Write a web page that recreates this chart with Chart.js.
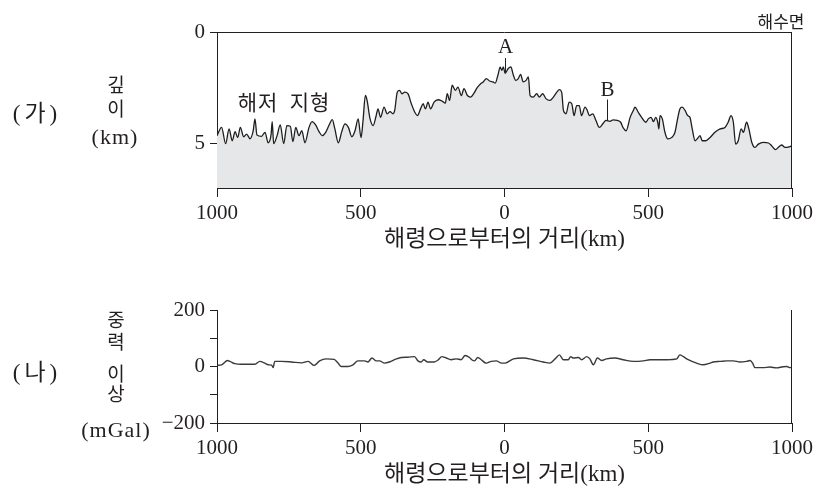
<!DOCTYPE html>
<html lang="ko">
<head>
<meta charset="utf-8">
<title>해령으로부터의 거리에 따른 해저 지형과 중력 이상</title>
<script src="https://cdn.jsdelivr.net/npm/chart.js@4.4.1/dist/chart.umd.min.js"></script>
<style>
  html, body { margin: 0; padding: 0; background: #fff; }
  #wrap { position: relative; width: 836px; height: 490px; overflow: hidden; }
  canvas { position: absolute; left: 0; }
  .lbl { position: absolute; transform: translate(-50%, -50%); white-space: nowrap; color: #231f20;
         font-family: 'Liberation Serif', 'Noto Sans CJK KR', serif; line-height: 1; }
  .ko { font-family: 'Noto Sans CJK KR', sans-serif; }
</style>
</head>
<body>
<div id="wrap">
  <canvas id="topo" width="836" height="255" style="top:0"></canvas>
  <canvas id="grav" width="836" height="235" style="top:255px"></canvas>

  <div class="lbl" style="left:37px;top:113px;font-size:23px;letter-spacing:4px">(가)</div>
  <div class="lbl ko" style="left:116px;top:83px;font-size:19px">깊</div>
  <div class="lbl ko" style="left:116px;top:107px;font-size:19px">이</div>
  <div class="lbl" style="left:115px;top:137px;font-size:22px;letter-spacing:1px">(km)</div>
  <div class="lbl ko" style="left:781px;top:20px;font-size:17px">해수면</div>

  <div class="lbl" style="left:37px;top:372px;font-size:23px;letter-spacing:4px">(나)</div>
  <div class="lbl ko" style="left:116px;top:318px;font-size:19px">중</div>
  <div class="lbl ko" style="left:116px;top:340px;font-size:19px">력</div>
  <div class="lbl ko" style="left:116px;top:372px;font-size:19px">이</div>
  <div class="lbl ko" style="left:116px;top:392px;font-size:19px">상</div>
  <div class="lbl" style="left:116px;top:430px;font-size:22px;letter-spacing:1px">(mGal)</div>
</div>

<script>
// distance from the ridge (km), left side negative, and sea-floor depth (km)
const topoDist = [
  -1000, -984, -970, -958, -947, -937, -928, -919, -907, -897,
  -885, -874, -868, -861, -845, -833, -822, -812, -808, -803,
  -791, -780, -768, -757, -745, -736, -726, -715, -705, -694,
  -680, -669, -657, -645, -634, -622, -610, -599, -590, -578,
  -566, -555, -543, -531, -520, -509, -499, -492, -484, -478,
  -468, -457, -447, -440, -431, -419, -408, -398, -388, -382,
  -373, -365, -357, -347, -336, -324, -312, -303, -292, -283,
  -275, -266, -257, -245, -231, -217, -206, -199, -191, -182,
  -171, -162, -150, -141, -129, -118, -106, -95, -83, -74,
  -63, -52, -40, -32, -23, -15, -9, -4, 2, 13,
  22, 31, 39, 48, 56, 65, 75, 83, 89, 100,
  112, 121, 133, 144, 158, 170, 182, 191, 199, 205,
  214, 225, 234, 242, 251, 260, 268, 280, 288, 295,
  307, 318, 330, 342, 353, 367, 378, 392, 404, 413,
  423, 437, 448, 454, 465, 477, 492, 500, 510, 518,
  526, 533, 537, 541, 549, 558, 568, 582, 593, 602,
  610, 618, 628, 637, 645, 653, 663, 672, 680, 688,
  700, 715, 732, 750, 767, 778, 788, 796, 804, 813,
  823, 831, 842, 850, 860, 871, 883, 900, 918, 929,
  943, 952, 964, 976, 990, 1000
];
const topoDepth = [
  4.65, 4.28, 5.01, 4.35, 4.88, 4.47, 4.74, 4.28, 4.70, 4.58,
  4.79, 4.43, 3.90, 4.62, 4.68, 4.50, 4.97, 4.62, 4.02, 5.01,
  4.65, 4.17, 5.01, 4.20, 4.23, 4.92, 4.28, 4.65, 4.43, 4.97,
  4.28, 4.02, 4.17, 4.47, 4.65, 4.50, 4.17, 3.93, 4.35, 4.97,
  4.47, 4.12, 4.28, 4.70, 4.43, 3.90, 4.74, 3.97, 2.85, 3.07,
  3.88, 4.20, 3.79, 3.45, 3.83, 3.37, 3.67, 3.57, 3.67, 3.52,
  2.70, 2.62, 2.77, 2.70, 2.77, 3.22, 3.60, 3.75, 3.45, 3.22,
  3.45, 3.15, 3.45, 3.15, 3.04, 3.10, 3.19, 2.77, 3.07, 2.39,
  2.62, 2.47, 2.85, 2.54, 2.85, 2.92, 2.74, 2.50, 2.32, 2.24,
  2.09, 2.20, 2.24, 2.29, 1.94, 1.58, 1.72, 1.57, 1.85, 1.64,
  1.57, 1.94, 2.17, 2.09, 1.90, 2.24, 2.17, 2.02, 2.85, 2.92,
  2.77, 2.92, 2.77, 2.99, 3.07, 2.92, 2.70, 2.59, 2.71, 3.52,
  3.67, 3.15, 3.22, 3.75, 3.30, 3.30, 3.75, 3.37, 3.52, 3.75,
  3.67, 3.97, 4.28, 4.12, 3.97, 4.01, 3.94, 3.97, 4.05, 4.30,
  4.43, 3.83, 3.52, 3.37, 3.60, 3.83, 4.05, 3.90, 3.83, 4.02,
  3.83, 4.05, 4.35, 3.75, 3.90, 4.50, 4.80, 4.73, 4.50, 3.90,
  3.45, 3.37, 3.52, 3.75, 3.83, 4.35, 4.88, 4.77, 4.65, 4.88,
  4.88, 4.73, 4.50, 4.35, 4.28, 4.05, 3.75, 4.05, 5.03, 4.88,
  4.35, 4.50, 4.05, 4.35, 4.95, 5.18, 5.03, 4.95, 4.98, 5.10,
  5.28, 5.18, 5.07, 5.18, 5.15, 5.10
];

// gravity anomaly (mGal) along the same line
const gravDist = [
  -1000, -984, -963, -955, -938, -915, -892, -868, -851, -834,
  -822, -810, -805, -799, -776, -741, -706, -683, -662, -643,
  -620, -593, -579, -568, -545, -527, -510, -487, -475, -461,
  -446, -435, -417, -400, -376, -359, -336, -313, -301, -290,
  -281, -267, -244, -230, -218, -203, -186, -168, -151, -137,
  -122, -114, -104, -93, -81, -64, -46, -29, -10, 2,
  31, 65, 100, 135, 158, 176, 191, 205, 222, 230,
  240, 257, 268, 286, 297, 309, 323, 338, 355, 384,
  413, 448, 483, 506, 529, 564, 599, 610, 622, 639,
  668, 691, 715, 726, 750, 773, 796, 819, 842, 854,
  863, 871, 900, 923, 946, 969, 982, 993, 1000
];
const gravValue = [
  4, 6, 21, 18, 10, 8, 8, 8, 18, 12,
  6, 5, -4, 18, 18, 16, 13, 18, 4, 20,
  27, 25, 12, 0, 0, 6, 20, 20, 16, 30,
  20, 20, 12, 16, 27, 32, 33, 35, 20, 16,
  24, 16, 16, 24, 35, 30, 24, 27, 24, 39,
  32, 24, 20, 32, 24, 12, 18, 20, 12, 12,
  27, 30, 24, 16, 12, 27, 41, 24, 24, 35,
  30, 32, 24, 35, 27, 6, 30, 21, 27, 30,
  24, 18, 20, 24, 24, 24, 27, 41, 35, 24,
  12, 6, 12, 16, 18, 20, 20, 16, 18, 21,
  12, -4, -4, -2, -5, -1, 0, -4, -2
];

const distTicks = [-1000, -500, 0, 500, 1000];
const depthTicks = [0, 5];
const gravTicks = [-200, -100, 0, 100, 200];
const gravTickLabels = ['\u2212200', '', '0', '', '200'];
const axisTitle = '해령으로부터의 거리(km)';
const markLabels = ['A', 'B'];
const markDist = [0, 355];

const ink = '#231f20';
const serif = "'Liberation Serif', 'Noto Sans CJK KR', serif";
const sans = "'Noto Sans CJK KR', sans-serif";

function distAxis() {
  return {
    type: 'linear', min: -1000, max: 1000,
    afterFit: s => { s.height = 67; },
    afterBuildTicks: s => { s.ticks = distTicks.map(v => ({ value: v })); },
    ticks: { callback: v => String(Math.abs(v)), color: ink, font: { family: serif, size: 21 }, padding: 4, maxRotation: 0, autoSkip: false },
    grid: { drawOnChartArea: false, tickLength: 9, color: ink },
    border: { color: ink },
    title: { display: true, text: axisTitle, color: ink, font: { family: serif, size: 23 }, padding: { top: 0, bottom: 1 } }
  };
}

// box lines that are not axes
const frame = {
  id: 'frame',
  afterDatasetsDraw(chart, args, opts) {
    const { ctx, chartArea: a } = chart;
    ctx.save();
    ctx.strokeStyle = ink;
    ctx.lineWidth = 1;
    ctx.beginPath();
    if (opts.top) {
      ctx.moveTo(a.left, Math.round(a.top) + 0.5);
      ctx.lineTo(a.right, Math.round(a.top) + 0.5);
    }
    ctx.moveTo(Math.round(a.right) - 0.5, a.top);
    ctx.lineTo(Math.round(a.right) - 0.5, a.bottom);
    ctx.stroke();
    ctx.restore();
  }
};

// A / B pointers and the 해저 지형 note
const marks = {
  id: 'marks',
  afterDatasetsDraw(chart) {
    const { ctx, scales: { x, y } } = chart;
    const lineFrom = [1.17, 3.03], lineTo = [1.85, 3.97], textAt = [0.70, 2.62];
    ctx.save();
    ctx.strokeStyle = ink;
    ctx.fillStyle = ink;
    ctx.lineWidth = 1;
    ctx.textAlign = 'center';
    ctx.textBaseline = 'middle';
    ctx.font = '21px ' + serif;
    markLabels.forEach((lab, i) => {
      const px = Math.round(x.getPixelForValue(markDist[i])) + 0.5;
      ctx.beginPath();
      ctx.moveTo(px, y.getPixelForValue(lineFrom[i]));
      ctx.lineTo(px, y.getPixelForValue(lineTo[i]));
      ctx.stroke();
      ctx.fillText(lab, px, y.getPixelForValue(textAt[i]));
    });
    ctx.font = '21px ' + sans;
    ctx.letterSpacing = '1px';
    ctx.fillText('해저  지형', x.getPixelForValue(-767), y.getPixelForValue(3.12));
    ctx.restore();
  }
};

new Chart(document.getElementById('topo'), {
  type: 'line',
  data: {
    datasets: [{
      data: topoDist.map((d, i) => ({ x: d, y: topoDepth[i] })),
      borderColor: '#1e1e1e',
      borderWidth: 1.3,
      backgroundColor: '#e6e7e8',
      fill: { value: 7 },
      pointRadius: 0,
      cubicInterpolationMode: 'monotone'
    }]
  },
  options: {
    responsive: false,
    animation: false,
    devicePixelRatio: 1,
    layout: { padding: { top: 32, right: 44, left: 0, bottom: 0 } },
    plugins: { legend: { display: false }, tooltip: { enabled: false }, frame: { top: true } },
    scales: {
      x: distAxis(),
      y: {
        reverse: true, min: 0, max: 7,
        afterFit: s => { s.width = 217; },
        afterBuildTicks: s => { s.ticks = depthTicks.map(v => ({ value: v })); },
        ticks: { color: ink, font: { family: serif, size: 21 }, padding: 5 },
        grid: { drawOnChartArea: false, tickLength: 7, color: ink },
        border: { color: ink }
      }
    }
  },
  plugins: [frame, marks]
});

new Chart(document.getElementById('grav'), {
  type: 'line',
  data: {
    datasets: [{
      data: gravDist.map((d, i) => ({ x: d, y: gravValue[i] })),
      borderColor: '#3a3a3a',
      borderWidth: 1.4,
      fill: false,
      pointRadius: 0,
      cubicInterpolationMode: 'monotone'
    }]
  },
  options: {
    responsive: false,
    animation: false,
    devicePixelRatio: 1,
    layout: { padding: { top: 55, right: 44, left: 0, bottom: 0 } },
    plugins: { legend: { display: false }, tooltip: { enabled: false }, frame: { top: false } },
    scales: {
      x: distAxis(),
      y: {
        min: -200, max: 200,
        afterFit: s => { s.width = 217; },
        afterBuildTicks: s => { s.ticks = gravTicks.map(v => ({ value: v })); },
        ticks: {
          callback: v => gravTickLabels[gravTicks.indexOf(v)],
          color: ink, font: { family: serif, size: 21 }, padding: 5
        },
        grid: { drawOnChartArea: false, tickLength: 7, color: ink },
        border: { color: ink }
      }
    }
  },
  plugins: [frame]
});
</script>
</body>
</html>
